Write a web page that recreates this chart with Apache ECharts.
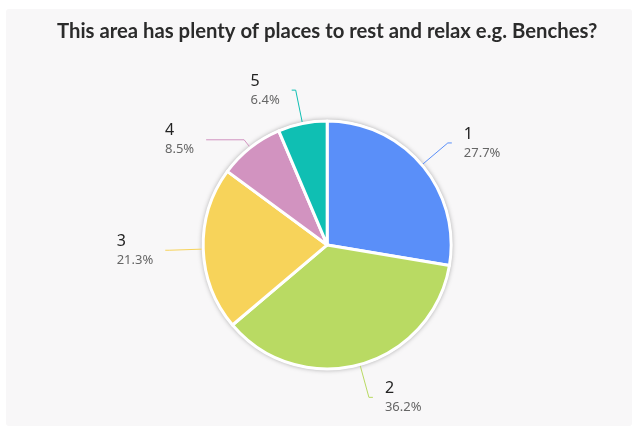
<!DOCTYPE html>
<html>
<head>
<meta charset="utf-8">
<script src="https://cdn.jsdelivr.net/npm/echarts@6/dist/echarts.min.js"></script>
<style>
  html, body { margin: 0; padding: 0; background: #ffffff; }
  #chart { width: 639px; height: 429px; }
</style>
</head>
<body>
<div id="chart"></div>
<script>
// Survey answers (rating 1–5) and number of respondents per answer
const categories = ['1', '2', '3', '4', '5'];
const counts = [13, 17, 10, 4, 3];
const sliceColors = ['#5a8ff9', '#b9da63', '#f7d35a', '#d293c0', '#0fbfb3'];
const titleText = 'This area has plenty of places to rest and relax e.g. Benches?';

const chart = echarts.init(document.getElementById('chart'), null, { renderer: 'canvas' });

const pieData = categories.map((name, i) => {
  const item = {
    name: name,
    value: counts[i],
    itemStyle: { color: sliceColors[i] },
    labelLine: { lineStyle: { color: sliceColors[i] } }
  };
  // the small "4" slice sits close to "5"; route its connector further out horizontally
  if (name === '4') {
    item.labelLine.length = 10;
    item.labelLine.length2 = 38;
  }
  return item;
});

const center = ['51.2%', '57.1%'];

chart.setOption({
  backgroundColor: '#ffffff',
  animation: false,
  graphic: [{
    type: 'rect',
    left: 6, top: 9,
    shape: { width: 626, height: 417, r: 3 },
    style: { fill: '#f8f7f8' },
    z: -10
  }],
  title: {
    text: titleText,
    left: 52,
    top: 16,
    textStyle: {
      fontFamily: 'Lato',
      fontWeight: 'bold',
      fontSize: 20.3,
      color: '#2b2b2b'
    }
  },
  series: [
    {
      // white disc with a soft shadow behind the slices
      type: 'pie',
      silent: true,
      center: center,
      radius: 125,
      data: [{ value: 1, name: '' }],
      label: { show: false },
      labelLine: { show: false },
      itemStyle: {
        color: '#ffffff',
        shadowBlur: 5,
        shadowColor: 'rgba(0,0,0,0.35)'
      },
      z: 1
    },
    {
      type: 'pie',
      center: center,
      radius: 124,
      startAngle: 90,
      clockwise: true,
      avoidLabelOverlap: true,
      data: pieData,
      itemStyle: {
        borderColor: '#ffffff',
        borderWidth: 3
      },
      label: {
        show: true,
        distanceToLabelLine: 12,
        formatter: function (p) {
          return '{n|' + p.name + '}\n{p|' + p.percent.toFixed(1) + '%}';
        },
        rich: {
          n: {
            fontFamily: 'Noto Sans',
            fontSize: 16,
            color: '#222222',
            lineHeight: 20,
            align: 'left'
          },
          p: {
            fontFamily: 'Noto Sans',
            fontSize: 13,
            color: '#666666',
            lineHeight: 18,
            align: 'left'
          }
        }
      },
      labelLine: {
        show: true,
        length: 34,
        length2: 4,
        smooth: false,
        lineStyle: { width: 1 }
      },
      z: 2
    }
  ]
});
</script>
</body>
</html>
